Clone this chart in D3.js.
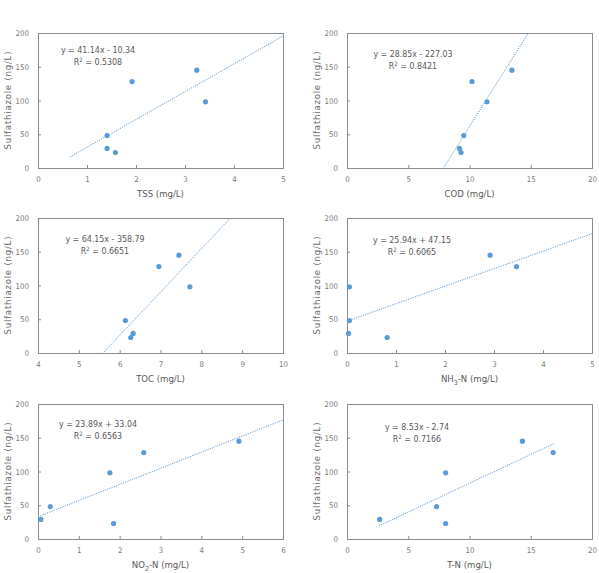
<!DOCTYPE html>
<html>
<head>
<meta charset="utf-8">
<script src="https://cdn.jsdelivr.net/npm/d3@7"></script>
<style>
  body { margin: 0; background: #fff; }
  text { font-family: "DejaVu Sans Condensed", "Liberation Sans", sans-serif; }
</style>
</head>
<body>
<script>
// sulfathiazole per sample (ng/L), same 6 samples in every panel
var sulfathiazole = [29, 23, 48, 128, 98, 145]

// water quality parameters (mg/L)
var tss  = [1.41, 1.58, 1.41, 1.92, 3.42, 3.24]
var cod  = [9.18, 9.31, 9.53, 10.2, 11.43, 13.46]
var toc  = [6.33, 6.27, 6.14, 6.96, 7.72, 7.45]
var nh3n = [0.03, 0.82, 0.05, 3.46, 0.05, 2.92]
var no2n = [0.07, 1.85, 0.30, 2.59, 1.76, 4.92]
var tn   = [2.67, 8.05, 7.31, 16.83, 8.05, 14.32]

// trend line equations
var slopes     = [41.14, 28.85, 64.15, 25.94, 23.89, 8.53]
var intercepts = [-10.34, -227.03, -358.79, 47.15, 33.04, -2.74]
var r2         = ["0.5308", "0.8421", "0.6651", "0.6065", "0.6563", "0.7166"]
var eqTexts    = ["y = 41.14x - 10.34", "y = 28.85x - 227.03", "y = 64.15x - 358.79",
                  "y = 25.94x + 47.15", "y = 23.89x + 33.04", "y = 8.53x - 2.74"]
var trendFrom  = [0.65, 0, 4, 0, 0, 2.6]
var trendTo    = [5, 20, 10, 5, 6, 16.9]

// axes
var xDomains = [[0, 5], [0, 20], [4, 10], [0, 5], [0, 6], [0, 20]]
var xTicks = [
  [0, 1, 2, 3, 4, 5],
  [0, 5, 10, 15, 20],
  [4, 5, 6, 7, 8, 9, 10],
  [0, 1, 2, 3, 4, 5],
  [0, 1, 2, 3, 4, 5, 6],
  [0, 5, 10, 15, 20]
]
var yTicks = [0, 50, 100, 150, 200]
// [main, subscript, rest]
var xTitles = [["TSS", "", " (mg/L)"], ["COD", "", " (mg/L)"], ["TOC", "", " (mg/L)"],
               ["NH", "3", "-N (mg/L)"], ["NO", "2", "-N (mg/L)"], ["T-N", "", " (mg/L)"]]
var yTitle = "Sulfathiazole (ng/L)"

var xData = [tss, cod, toc, nh3n, no2n, tn]

// layout
var W = 599, H = 573
var colX = [38, 347], rowY = [33, 218, 404]
var pw = 245, ph = 135
var eqOffset = [[60, 16], [66, 20], [67, 20], [65, 21], [60, 19], [70, 22]]

var blue = "#5b9bd5", grey = "#595959", axisCol = "#8c8c8c"

var svg = d3.select("body").append("svg")
    .attr("width", W)
    .attr("height", H)

xData.forEach(function(xs, i) {
    var ox = colX[i % 2], oy = rowY[Math.floor(i / 2)]
    var g = svg.append("g").attr("transform", "translate(" + ox + "," + oy + ")")

    var x = d3.scaleLinear().domain(xDomains[i]).range([0, pw])
    var y = d3.scaleLinear().domain([0, 200]).range([ph, 0])

    g.append("clipPath").attr("id", "clip" + i)
      .append("rect").attr("width", pw).attr("height", ph)

    // plot border
    g.append("rect")
        .attr("width", pw).attr("height", ph)
        .attr("fill", "none")
        .attr("stroke", axisCol)
        .attr("stroke-width", 1)
        .attr("shape-rendering", "crispEdges")

    // axes with inside ticks
    var xa = g.append("g").attr("transform", "translate(0," + ph + ")")
        .call(d3.axisBottom(x).tickValues(xTicks[i]).tickFormat(d3.format("d"))
              .tickSizeInner(-3).tickSizeOuter(0).tickPadding(8))
    var ya = g.append("g")
        .call(d3.axisLeft(y).tickValues(yTicks).tickFormat(d3.format("d"))
              .tickSizeInner(-3).tickSizeOuter(0).tickPadding(9))
    ;[xa, ya].forEach(function(a) {
        a.select(".domain").attr("stroke", axisCol).attr("shape-rendering", "crispEdges")
        a.selectAll(".tick line").attr("stroke", axisCol)
        a.selectAll(".tick text").attr("fill", "#7a7a7a").attr("font-size", 7.8)
          .attr("font-family", null)
    })

    // trend line (dotted)
    var tl = [trendFrom[i], trendTo[i]]
    g.append("line")
        .attr("clip-path", "url(#clip" + i + ")")
        .attr("x1", x(tl[0])).attr("y1", y(slopes[i] * tl[0] + intercepts[i]))
        .attr("x2", x(tl[1])).attr("y2", y(slopes[i] * tl[1] + intercepts[i]))
        .attr("stroke", blue)
        .attr("stroke-width", 1)
        .attr("stroke-dasharray", "1.2 1.2")

    // points
    g.selectAll("circle")
        .data(xs)
        .enter()
        .append("circle")
        .attr("cx", d => x(d))
        .attr("cy", (d, j) => y(sulfathiazole[j]))
        .attr("r", 2.6)
        .attr("fill", blue)

    // equation
    var eq = eqOffset[i]
    g.append("text")
        .attr("x", eq[0]).attr("y", eq[1] + 3.5)
        .attr("text-anchor", "middle")
        .attr("font-size", 8.8)
        .attr("fill", grey)
        .text(eqTexts[i])
    var rt = g.append("text")
        .attr("x", eq[0]).attr("y", eq[1] + 16)
        .attr("text-anchor", "middle")
        .attr("font-size", 8.8)
        .attr("fill", grey)
    rt.append("tspan").text("R")
    rt.append("tspan").attr("dy", -3.5).attr("font-size", 6).text("2")
    rt.append("tspan").attr("dy", 3.5).text(" = " + r2[i])

    // x title
    var t = xTitles[i]
    var xt = g.append("text")
        .attr("x", pw / 2).attr("y", ph + 29)
        .attr("text-anchor", "middle")
        .attr("font-size", 9.5)
        .attr("fill", grey)
    xt.append("tspan").text(t[0])
    if (t[1]) {
        xt.append("tspan").attr("dy", 2.5).attr("font-size", 7).text(t[1])
        xt.append("tspan").attr("dy", -2.5).text(t[2])
    } else {
        xt.append("tspan").text(t[2])
    }

    // y title
    g.append("text")
        .attr("transform", "translate(-27," + (ph / 2) + ") rotate(-90)")
        .attr("text-anchor", "middle")
        .attr("font-size", 9.5)
        .attr("fill", "#6a6a6a")
        .attr("textLength", 98)
        .attr("lengthAdjust", "spacing")
        .text(yTitle)
})
</script>
</body>
</html>
